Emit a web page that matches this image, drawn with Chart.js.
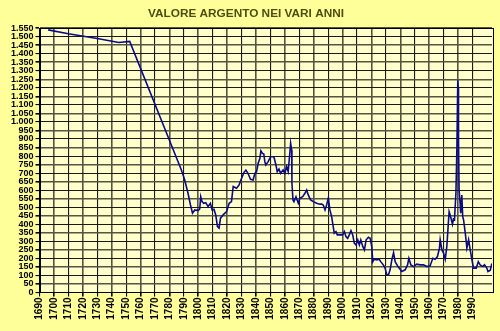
<!DOCTYPE html>
<html>
<head>
<meta charset="utf-8">
<script src="https://cdn.jsdelivr.net/npm/chart.js@4/dist/chart.umd.min.js"></script>
<style>
  html, body { margin: 0; padding: 0; background: #ffffff; }
  #wrap { width: 500px; height: 331px; }
</style>
</head>
<body>
<div id="wrap"><canvas id="c" width="500" height="331"></canvas></div>
<script>
const titleText = "VALORE ARGENTO NEI VARI ANNI";
const years = [1696,1710,1730,1745,1752.5,1788.3,1790.6,1792.9,1794.6,1796,1797.6,1799.9,1801,1801.7,1802.6,1803.8,1805.2,1806.8,1808.4,1809.6,1810.9,1812.1,1813.3,1814.4,1815.4,1817.2,1819.6,1821.4,1823,1824.2,1826.5,1828.3,1830,1831.6,1833,1834.4,1836.2,1838,1839.2,1840.4,1841.5,1842.7,1843.4,1844.5,1845.4,1846.1,1846.8,1848.4,1850.1,1852.4,1853.8,1854.7,1855.9,1857,1858.8,1860,1861.2,1862.3,1863,1864,1864.7,1864.9,1865.6,1866.3,1867.7,1869.3,1870.4,1872.3,1873.9,1875.1,1876.2,1877.8,1879.7,1882,1884.3,1885.5,1886.6,1887.8,1888.9,1890.1,1891.2,1892.4,1893.5,1894.2,1895.4,1896.3,1898.2,1900,1901.2,1902.3,1903.5,1904.6,1905.8,1907,1908.1,1909.3,1910.5,1911.6,1912.6,1914,1915.1,1916.3,1917.9,1919.1,1920.2,1920.9,1921.8,1923.7,1925.3,1926.4,1928.2,1929.4,1930.6,1931.8,1932.9,1934.1,1935.3,1936.4,1938.4,1941,1943.3,1945,1945.9,1947.3,1949.1,1951.4,1953.7,1956,1958.4,1960.6,1962.5,1964.1,1965.7,1967.1,1967.6,1968.8,1969.9,1971.1,1972.2,1973.1,1973.8,1975,1976.1,1976.8,1977.5,1978.5,1979.2,1979.8,1980.1,1980.3,1980.7,1981.4,1981.8,1982.6,1983.2,1983.8,1985,1986.1,1987.3,1988.4,1989.6,1990.7,1992.6,1994,1995.3,1997.2,1998.3,1999.9,2000.7,2002.3,2003.4];
const silverValues = [1540,1517,1489,1466,1472,718,660,582,513,465,484,480,490,562,533,523,527,504,523,484,488,455,386,377,436,455,474,523,533,621,611,631,670,703,718,699,664,660,699,709,758,787,831,816,812,767,748,767,796,796,748,709,724,699,718,699,738,709,777,875,835,641,543,533,562,523,553,562,582,601,572,543,533,523,518,519,513,484,513,553,484,445,386,348,357,338,338,338,357,328,318,338,363,338,289,279,309,279,309,269,250,309,324,318,269,181,195,191,195,181,162,143,104,104,133,191,234,181,152,123,133,162,201,162,152,166,162,162,152,156,201,195,211,260,309,250,231,195,269,386,474,440,400,430,426,582,855,1245,1200,894,601,523,465,572,445,426,348,260,309,250,191,143,143,181,162,152,162,143,123,130,170];
const xMin = 1690, xMax = 2003.5, xStep = 10;
const yMin = 0, yMax = 1550, yStep = 50;

function fmtThousands(v) {
  if (v >= 1000) {
    return Math.floor(v / 1000) + "." + String(v % 1000).padStart(3, "0");
  }
  return String(v);
}

const bgPlugin = {
  id: "bg",
  beforeDraw(chart) {
    const { ctx, chartArea: a } = chart;
    ctx.save();
    ctx.fillStyle = "#ffff99";
    ctx.fillRect(0, 0, chart.width, chart.height);
    ctx.fillStyle = "#ffffcc";
    ctx.fillRect(a.left, a.top, a.right - a.left, a.bottom - a.top);
    ctx.restore();
  },
  afterDatasetsDraw(chart) {
    const { ctx, chartArea: a } = chart;
    ctx.save();
    ctx.strokeStyle = "#000000";
    ctx.lineWidth = 1;
    ctx.strokeRect(Math.round(a.left) + 0.5, Math.round(a.top) + 0.5, Math.round(a.right - a.left), Math.round(a.bottom - a.top));
    ctx.restore();
  }
};

const tickFont = { family: "'Liberation Sans', Arial, sans-serif", size: 9, weight: "bold" };
const gridColor = ctx => (ctx.index % 2 ? "#55553f" : "#1a1a10");
const gridWidth = ctx => (ctx.index % 2 ? 1.6 : 1.1);

new Chart(document.getElementById("c"), {
  type: "line",
  data: {
    datasets: [{
      data: years.map((y, i) => ({ x: y, y: silverValues[i] })),
      borderColor: "#0a0a88",
      borderWidth: 1.6,
      pointRadius: 0,
      tension: 0,
      fill: false
    }]
  },
  options: {
    responsive: false,
    animation: false,
    layout: { padding: { left: 0, right: 8, top: 0, bottom: 0 } },
    plugins: {
      legend: { display: false },
      tooltip: { enabled: false },
      title: {
        display: true,
        text: titleText,
        color: "#4d4d12",
        font: { family: "'Liberation Sans', Arial, sans-serif", size: 11.8, weight: "bold" },
        padding: { top: 7, bottom: 7 }
      }
    },
    scales: {
      x: {
        type: "linear",
        min: xMin,
        max: xMax,
        afterBuildTicks(scale) {
          scale.ticks = scale.ticks.filter(t => Math.abs(t.value % xStep) < 1e-6);
        },
        afterFit(scale) { scale.height = 38.5; },
        ticks: {
          stepSize: xStep,
          autoSkip: false,
          maxRotation: 90,
          minRotation: 90,
          padding: 1,
          color: "#000000",
          font: { family: "'Liberation Sans', Arial, sans-serif", size: 10, weight: "bold" },
          callback: v => String(v)
        },
        grid: { color: gridColor, lineWidth: gridWidth, tickLength: 4, tickColor: "#000000", drawTicks: true },
        border: { color: "#000000", width: 1 }
      },
      y: {
        min: yMin,
        max: yMax,
        afterFit(scale) { scale.width = 39.5; },
        ticks: {
          stepSize: yStep,
          autoSkip: false,
          padding: 2,
          color: "#000000",
          font: tickFont,
          callback: v => fmtThousands(v)
        },
        grid: { color: gridColor, lineWidth: gridWidth, tickLength: 4, tickColor: "#000000" },
        border: { color: "#000000", width: 1 }
      }
    }
  },
  plugins: [bgPlugin]
});
</script>
</body>
</html>
